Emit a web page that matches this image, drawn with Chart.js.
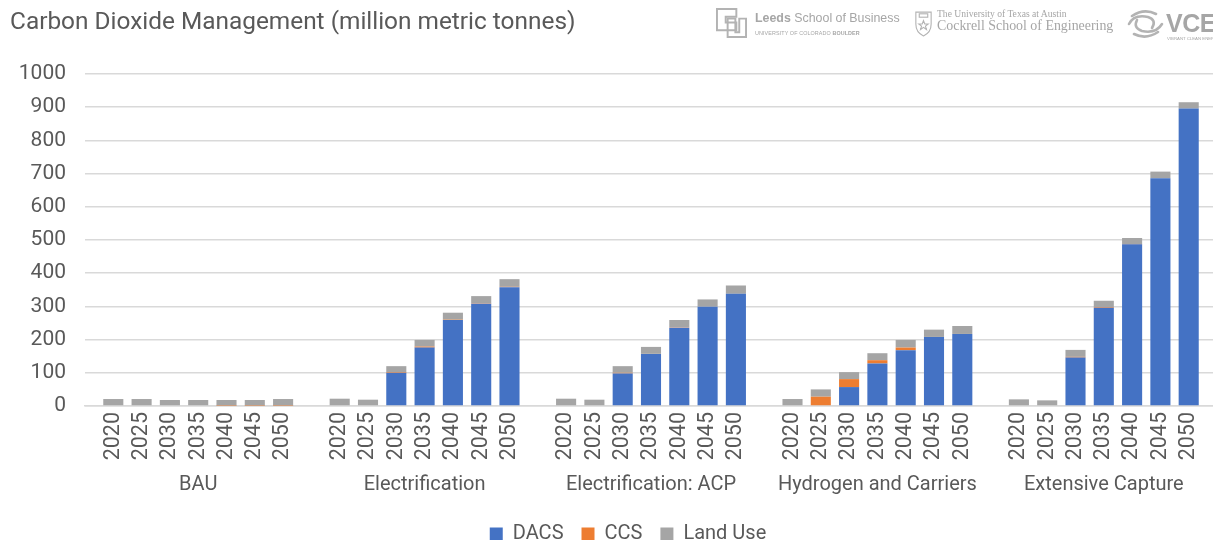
<!DOCTYPE html>
<html>
<head>
<meta charset="utf-8">
<title>Carbon Dioxide Management</title>
<script src="https://cdn.jsdelivr.net/npm/chart.js@4.4.0/dist/chart.umd.min.js"></script>
<style>
  html, body { margin: 0; padding: 0; background: #fff; overflow: hidden; }
  #wrap { position: relative; width: 1222px; height: 540px; }
  #chart { position: absolute; left: 0; top: 0; }
  .title { position: absolute; left: 10px; top: 6px; font: 24.4px Roboto, sans-serif; color: #595959; white-space: nowrap; }
  .logo { position: absolute; color: #a6a6a6; white-space: nowrap; line-height: 1; }
  .leeds { left: 755px; top: 11px; font: 12.4px "Liberation Sans", Arial, sans-serif; }
  .leeds b { font-weight: bold; }
  .leeds-sub { left: 755px; top: 30px; font: 5.4px "Liberation Sans", Arial, sans-serif; letter-spacing: 0.1px; }
  .ut1 { left: 937px; top: 8px; font: 9.6px "Liberation Serif", "DejaVu Serif", serif; }
  .ut2 { left: 937px; top: 18px; font: 13.9px "Liberation Serif", "DejaVu Serif", serif; }
  .vce { left: 1166px; top: 9px; font: bold 25px "Liberation Sans", Arial, sans-serif; letter-spacing: -0.5px; }
  .vce-sub { left: 1167px; top: 36px; font: 4.3px "Liberation Sans", Arial, sans-serif; }
  svg.logo { fill: none; stroke: #b3b3b3; }
</style>
</head>
<body>
<div id="wrap">
  <canvas id="chart" width="1222" height="540"></canvas>
  <div class="title">Carbon Dioxide Management (million metric tonnes)</div>

  <svg class="logo" style="left:715px;top:7px" width="33" height="31" viewBox="0 0 34 32" stroke-width="2">
    <path d="M22 2 H2 V24 H22 V16 H11 V10 H22 Z"/>
    <path d="M13 12 H21 V26 H25 V12 H32 V31 H13 Z"/>
  </svg>
  <div class="logo leeds"><b>Leeds</b> School of Business</div>
  <div class="logo leeds-sub">UNIVERSITY OF COLORADO <b>BOULDER</b></div>

  <svg class="logo" style="left:915px;top:10px" width="17" height="28" viewBox="0 0 20 30" stroke-width="1.3">
    <path d="M1 1 H19 V15 Q19 25 10 29 Q1 25 1 15 Z"/>
    <rect x="5" y="3" width="10" height="4"/>
    <path d="M10 11 L11.5 15 L15.5 15 L12.3 17.5 L13.5 21.5 L10 19 L6.5 21.5 L7.7 17.5 L4.5 15 L8.5 15 Z"/>
  </svg>
  <div class="logo ut1">The University of Texas at Austin</div>
  <div class="logo ut2">Cockrell School of Engineering</div>

  <svg class="logo" style="left:1124px;top:9px" width="42" height="30" viewBox="0 0 42 30" stroke-width="2.6" stroke-linecap="round">
    <path d="M8 7 Q20 -1 32 5"/>
    <path d="M5 15 Q10 5 24 8 Q33 11 28 19"/>
    <path d="M38 15 Q32 25 18 22 Q9 19 13 11"/>
    <path d="M34 23 Q22 31 10 25"/>
  </svg>
  <div class="logo vce">VCE</div>
  <div class="logo vce-sub">VIBRANT CLEAN ENERGY</div>
</div>

<script>
const scenarios = ['BAU', 'Electrification', 'Electrification: ACP', 'Hydrogen and Carriers', 'Extensive Capture'];
const years = ['2020', '2025', '2030', '2035', '2040', '2045', '2050'];

// million tonnes, one row per scenario, 2020 -> 2050
const dacs = [
  [0, 0, 0, 0, 0, 0, 0],
  [0, 0, 100, 176, 259, 308, 358],
  [0, 0, 98, 157, 236, 299, 338],
  [0, 0, 57, 128, 168, 208, 217],
  [0, 0, 146, 296, 487, 686, 896]
];
const ccs = [
  [0, 0, 0, 0, 1, 1, 1],
  [0, 0, 2, 3, 1, 1, 1],
  [0, 0, 2, 0, 1, 0, 0],
  [0, 28, 24, 10, 8, 0, 0],
  [0, 0, 2, 2, 1, 0, 0]
];
const landUse = [
  [21, 21, 18, 18, 17, 17, 20],
  [22, 19, 18, 20, 21, 22, 23],
  [22, 19, 20, 21, 22, 22, 25],
  [21, 22, 21, 21, 23, 22, 24],
  [20, 17, 21, 19, 18, 20, 19]
];
const yMax = 1000;
const yStep = 100;

// empty slot at both ends and between scenarios
const labels = [''];
scenarios.forEach(() => labels.push(...years, ''));
const spread = rows => [null].concat(...rows.map(r => [...r, null]));

const textColor = '#595959';
const gridColor = '#d9d9d9';
const font = size => ({ family: 'Roboto, sans-serif', size: size });

// scenario names under the year ticks, legend nudged left
const groupLabels = {
  id: 'groupLabels',
  afterLayout(chart) {
    chart.legend.left -= 23;
    chart.legend.right -= 23;
  },
  afterDraw(chart) {
    const x = chart.scales.x;
    const ctx = chart.ctx;
    ctx.save();
    ctx.font = '20px Roboto, sans-serif';
    ctx.fillStyle = textColor;
    ctx.textAlign = 'center';
    ctx.textBaseline = 'middle';
    scenarios.forEach((name, g) => {
      ctx.fillText(name, x.getPixelForValue(g * 8 + 4), 485);
    });
    ctx.restore();
  }
};

new Chart(document.getElementById('chart'), {
  type: 'bar',
  data: {
    labels: labels,
    datasets: [
      { label: 'DACS', data: spread(dacs), backgroundColor: '#4472C4' },
      { label: 'CCS', data: spread(ccs), backgroundColor: '#ED7D31' },
      { label: 'Land Use', data: spread(landUse), backgroundColor: '#A5A5A5' }
    ]
  },
  options: {
    responsive: false,
    animation: false,
    categoryPercentage: 1,
    barPercentage: 0.71,
    layout: { padding: { top: 74, right: 5, left: 0, bottom: -14 } },
    plugins: {
      tooltip: { enabled: false },
      legend: {
        position: 'bottom',
        fullSize: false,
        labels: {
          boxWidth: 13,
          boxHeight: 13,
          padding: 18,
          color: textColor,
          font: font(20)
        }
      }
    },
    scales: {
      x: {
        stacked: true,
        offset: false,
        grid: { display: false, drawTicks: false },
        border: { display: true, color: gridColor, width: 1.5 },
        ticks: {
          autoSkip: false,
          minRotation: 90,
          maxRotation: 90,
          padding: 6,
          color: textColor,
          font: font(21.5)
        },
        afterFit(scale) {
          scale.height = 100;
          scale.paddingLeft = 0;
          scale.paddingRight = 0;
        }
      },
      y: {
        stacked: true,
        min: 0,
        max: yMax,
        grid: { color: gridColor, lineWidth: 1.5, drawTicks: false },
        border: { display: false },
        ticks: {
          stepSize: yStep,
          padding: 19,
          color: textColor,
          font: font(21),
          callback: v => String(v)
        },
        afterFit(scale) { scale.width = 85; }
      }
    }
  },
  plugins: [groupLabels]
});
</script>
</body>
</html>
